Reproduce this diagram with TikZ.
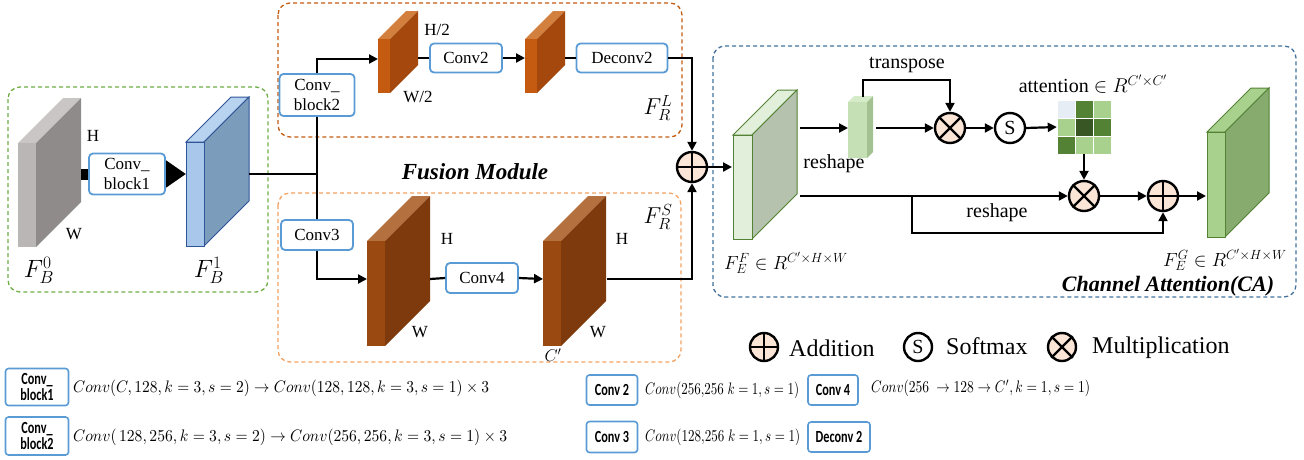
\RequirePackage{fix-cm}
\documentclass[tikz,border=0pt]{standalone}
\usepackage{fontspec}
\usepackage{graphicx}
\setmainfont{Liberation Serif}
\newfontfamily\legfont[FakeStretch=0.72]{Carlito}
\usetikzlibrary{arrows.meta}
\definecolor{blkblue}{HTML}{5B9BD5}
\definecolor{opfill}{HTML}{FBE5D6}
\definecolor{gdash}{HTML}{70AD47}
\definecolor{odark}{HTML}{C55A11}
\definecolor{olight}{HTML}{F4A261}
\definecolor{bdash}{HTML}{41719C}
\definecolor{grayF}{HTML}{BAB6B6}\definecolor{grayS}{HTML}{8F8B8B}\definecolor{grayT}{HTML}{CAC6C6}
\definecolor{bluF}{HTML}{A8C7EA}\definecolor{bluS}{HTML}{7B9CBB}\definecolor{bluT}{HTML}{B8D3F0}\definecolor{bluK}{HTML}{2F5597}
\definecolor{orF}{HTML}{C55A11}\definecolor{orS}{HTML}{A4480E}\definecolor{orT}{HTML}{D3803F}
\definecolor{brF}{HTML}{9A4A10}\definecolor{brS}{HTML}{7E3A0C}\definecolor{brT}{HTML}{B5703F}
\definecolor{g1F}{HTML}{E2EFDA}\definecolor{g1S}{HTML}{B4C2AE}\definecolor{gK}{HTML}{548235}
\definecolor{sgF}{HTML}{C5E0B4}\definecolor{sgS}{HTML}{A3C191}\definecolor{sgT}{HTML}{D6EBC9}
\definecolor{g2F}{HTML}{A9D18E}\definecolor{g2S}{HTML}{87AB6E}
\definecolor{mA}{HTML}{E7EDF5}\definecolor{mB}{HTML}{548235}\definecolor{mC}{HTML}{A9D18E}\definecolor{mD}{HTML}{375623}
% #1 x, #2 y (front top-left), #3 width, #4 height, #5 depth, #6 front, #7 side, #8 top, #9 stroke opts
\newcommand\slab[9]{%
  \path[fill=#8,#9] (#1,#2) -- ++(#5,-#5) -- ++(#3,0) -- ({#1+#3},#2) -- cycle;
  \path[fill=#7,#9] ({#1+#3},#2) -- ++(#5,-#5) -- ++(0,#4) -- ({#1+#3},{#2+#4}) -- cycle;
  \path[fill=#6,#9] (#1,#2) rectangle ({#1+#3},{#2+#4});
}
\newcommand\fml[2]{\resizebox{#1pt}{12.5pt}{$#2$}}
\begin{document}
\begin{tikzpicture}[x=1pt,y=-1pt,
  conn/.style={line width=2.2pt},
  arr/.style={line width=2.2pt,-{Triangle[length=9pt,width=9pt]}},
  blk/.style={draw=blkblue,line width=1.8pt,rounded corners=4pt,fill=white,align=center,inner sep=0pt,font=\fontsize{17}{20}\selectfont},
  opc/.style={circle,draw=black,line width=2.4pt,fill=opfill,minimum size=30pt,inner sep=0pt},
  opl/.style={line width=2.4pt},
  lbl/.style={inner sep=0pt},
  dbox/.style={dash pattern=on 4pt off 3pt,line width=1.3pt,rounded corners=12pt},
  leg/.style={draw=blkblue,line width=1.6pt,rounded corners=3pt,align=center,inner sep=0pt,font=\legfont\bfseries\fontsize{17}{16}\selectfont},
  fmlnode/.style={inner sep=0pt,anchor=west}]
\useasboundingbox (0,0) rectangle (1304,459);

% dashed frames
\draw[dbox,draw=gdash] (8,87) rectangle (268,292);
\draw[dbox,draw=odark] (278,3) rectangle (682,137);
\draw[dbox,draw=olight] (278,193) rectangle (681,362);
\draw[dbox,draw=bdash] (713,46) rectangle (1296,297);

% slabs
\slab{18}{143}{18}{104}{45}{grayF}{grayS}{grayT}{draw=none}
\slab{186}{142}{18}{104}{45}{bluF}{bluS}{bluT}{draw=bluK,line width=1pt}
\slab{378}{39}{12}{54}{28}{orF}{orS}{orT}{draw=none}
\slab{525}{39}{12}{54}{28}{orF}{orS}{orT}{draw=none}
\slab{367}{241}{18}{105}{45}{brF}{brS}{brT}{draw=none}
\slab{543}{241}{18}{105}{45}{brF}{brS}{brT}{draw=none}
\slab{733}{135}{19}{104}{45}{g1F}{g1S}{g1F}{draw=gK,line width=1pt}
\slab{848}{102}{19}{56}{6}{sgF}{sgS}{sgT}{draw=none}
\slab{1207}{132}{18}{105}{44}{g2F}{g2S}{g2F}{draw=gK,line width=1pt}

% connector coordinates on slabs
\coordinate (g0e) at (81,174);
\coordinate (b1w) at (186,174);
\coordinate (b1e) at (249,174);
\coordinate (J) at (317,174);
\coordinate (os1w) at (378,59);
\coordinate (os1e) at (418,58);
\coordinate (os2w) at (525,58);
\coordinate (os2e) at (565,58);
\coordinate (bs1w) at (367,279);
\coordinate (bs1e) at (430,279);
\coordinate (bs2w) at (543,279);
\coordinate (bs2e) at (607,279);
\coordinate (ge1w) at (732,167);
\coordinate (ge1a) at (800,128);
\coordinate (ge1b) at (800,196);
\coordinate (sbw) at (848,128);
\coordinate (sbe) at (876,128);
\coordinate (sbt) at (863,97);
\coordinate (tp) at (863,80);
\coordinate (br) at (912,196);
\coordinate (bb) at (912,233);
\coordinate (ge2w) at (1206,196);

% thick arrow
\draw[line width=11pt,-{Triangle[length=20pt,width=26pt]}] (g0e) -- (b1w);

% blocks
\node[blk,minimum width=76pt,minimum height=41pt] (cb1) at (127,174) {Conv\_\\block1};
\node[blk,minimum width=75pt,minimum height=42pt] (cb2) at (317,95) {Conv\_\\block2};
\node[blk,minimum width=72pt,minimum height=30pt] (c3) at (317,235) {Conv3};
\node[blk,minimum width=72pt,minimum height=29pt] (c2) at (466,58) {Conv2};
\node[blk,minimum width=91pt,minimum height=29pt] (dc2) at (622,58) {Deconv2};
\node[blk,minimum width=72pt,minimum height=30pt] (c4) at (482,278) {Conv4};

% operators
\node[opc] (add1) at (692,167) {};
\draw[opl] (add1.north) -- (add1.south) (add1.west) -- (add1.east);
\node[opc] (mul1) at (950,128) {};
\draw[opl] (mul1.north west) -- (mul1.south east) (mul1.north east) -- (mul1.south west);
\node[opc,fill=white,font=\fontsize{20}{20}\selectfont] (soft) at (1010,128) {S};
\node[opc] (mul2) at (1084,196) {};
\draw[opl] (mul2.north west) -- (mul2.south east) (mul2.north east) -- (mul2.south west);
\node[opc] (add2) at (1163,196) {};
\draw[opl] (add2.north) -- (add2.south) (add2.west) -- (add2.east);

% attention matrix
\node[minimum width=54pt,minimum height=54pt,inner sep=0pt] (att) at (1084,127) {};
\begin{scope}[draw=white,line width=0.8pt]
\filldraw[fill=mA] (1057,100) rectangle ++(18,18);
\filldraw[fill=mB] (1075,100) rectangle ++(18,18);
\filldraw[fill=mC] (1093,100) rectangle ++(18,18);
\filldraw[fill=mC] (1057,118) rectangle ++(18,18);
\filldraw[fill=mD] (1075,118) rectangle ++(18,18);
\filldraw[fill=mB] (1093,118) rectangle ++(18,18);
\filldraw[fill=mB] (1057,136) rectangle ++(18,18);
\filldraw[fill=mC] (1075,136) rectangle ++(18,18);
\filldraw[fill=mC] (1093,136) rectangle ++(18,18);
\end{scope}

% connectors
\draw[conn] (b1e) -- (J);
\draw[conn] (J) -- (cb2.south);
\draw[arr] (cb2.north) |- (os1w);
\draw[conn] (J) -- (c3.north);
\draw[arr] (c3.south) |- (bs1w);
\draw[conn] (os1e) -- (c2.west);
\draw[arr] (c2.east) -- (os2w);
\draw[conn] (os2e) -- (dc2.west);
\draw[arr] (dc2.east) -| (add1.north);
\draw[conn] (bs1e) -- (c4.west);
\draw[arr] (c4.east) -- (bs2w);
\draw[arr] (bs2e) -| (add1.south);
\draw[arr] (add1.east) -- (ge1w);
\draw[arr] (ge1a) -- (sbw);
\draw[arr] (sbe) -- (mul1.west);
\draw[arr] (sbt) -- (tp) -| (mul1.north);
\draw[arr] (mul1.east) -- (soft.west);
\draw[arr] (soft.east) -- (att.west);
\draw[arr] (att.south) -- (mul2.north);
\draw[arr] (ge1b) -- (mul2.west);
\draw[arr] (br) -- (bb) -| (add2.south);
\draw[arr] (mul2.east) -- (add2.west);
\draw[arr] (add2.east) -- (ge2w);

% labels
\begin{scope}[every node/.style={lbl,font=\fontsize{17}{17}\selectfont}]
\node at (93,136) {H};
\node at (74,234) {W};
\node at (437,30) {H/2};
\node at (418,97) {W/2};
\node at (447,239) {H};
\node at (420,332) {W};
\node at (622,239) {H};
\node at (598,332) {W};
\end{scope}
\node[lbl,font=\fontsize{25}{25}\selectfont] at (39,270) {$F_B^0$};
\node[lbl,font=\fontsize{25}{25}\selectfont] at (209,270) {$F_B^1$};
\node[lbl,font=\fontsize{23}{23}\selectfont] at (658,108) {$F_R^L$};
\node[lbl,font=\fontsize{23}{23}\selectfont] at (658,217) {$F_R^S$};
\node[lbl,font=\fontsize{17}{17}\selectfont] at (553,355) {$C'$};
\node[lbl,font=\fontsize{23}{23}\selectfont\bfseries\itshape] at (475,172) {Fusion Module};
\node[lbl,font=\fontsize{22}{22}\selectfont\bfseries\itshape] at (1168,286) {Channel Attention(CA)};
\node[lbl,font=\fontsize{20}{20}\selectfont] at (907,65) {transpose};
\node[lbl,font=\fontsize{20}{20}\selectfont] at (834,164) {reshape};
\node[lbl,font=\fontsize{20}{20}\selectfont] at (997,213) {reshape};
\node[lbl,font=\fontsize{20}{20}\selectfont] at (1093,84) {attention $\in R^{C'\times C'}$};
\node[lbl,font=\fontsize{19}{19}\selectfont,anchor=west] at (724,263) {$F_E^F\in R^{C'\times H\times W}$};
\node[lbl,font=\fontsize{19}{19}\selectfont,anchor=west] at (1163,260) {$F_E^G\in R^{C'\times H\times W}$};

% legend of operators
\node[opc,minimum size=28pt] (la) at (764,347) {};
\draw[opl] (la.north) -- (la.south) (la.west) -- (la.east);
\node[lbl,anchor=west,font=\fontsize{24}{24}\selectfont] at (789,348) {Addition};
\node[opc,fill=white,minimum size=28pt,font=\fontsize{20}{20}\selectfont] (ls) at (918,347) {S};
\node[lbl,anchor=west,font=\fontsize{24}{24}\selectfont] at (946,346) {Softmax};
\node[opc,minimum size=28pt] (lm) at (1062,347) {};
\draw[opl] (lm.north west) -- (lm.south east) (lm.north east) -- (lm.south west);
\node[lbl,anchor=west,font=\fontsize{24}{24}\selectfont] at (1092,348) {Multiplication};

% bottom legend
\node[leg,minimum width=63pt,minimum height=37pt] (k1) at (37,387) {Conv\_\\block1};
\node[leg,minimum width=63pt,minimum height=38pt] (k2) at (37,436) {Conv\_\\block2};
\node[leg,minimum width=51pt,minimum height=30pt] (k3) at (612,390) {Conv 2};
\node[leg,minimum width=50pt,minimum height=30pt] (k4) at (833,390) {Conv 4};
\node[leg,minimum width=51pt,minimum height=31pt] (k5) at (612,437) {Conv 3};
\node[leg,minimum width=62pt,minimum height=30pt] (k6) at (839,437) {Deconv 2};
\node[fmlnode] at (73,388) {\fml{416}{Conv(C, 128, k=3, s=2)\rightarrow Conv(128, 128, k=3, s=1)\times 3}};
\node[fmlnode] at (73,437) {\fml{434}{Conv(\,128, 256, k=3, s=2)\rightarrow Conv(256, 256, k=3, s=1)\times 3}};
\node[fmlnode] at (645,390) {\fml{154}{Conv(256{,}256\;k=1, s=1)}};
\node[fmlnode] at (645,437) {\fml{155}{Conv(128{,}256\;k=1, s=1)}};
\node[fmlnode] at (871,388) {\fml{219}{Conv(256\ \rightarrow 128\rightarrow C', k=1, s=1)}};
\end{tikzpicture}
\end{document}
